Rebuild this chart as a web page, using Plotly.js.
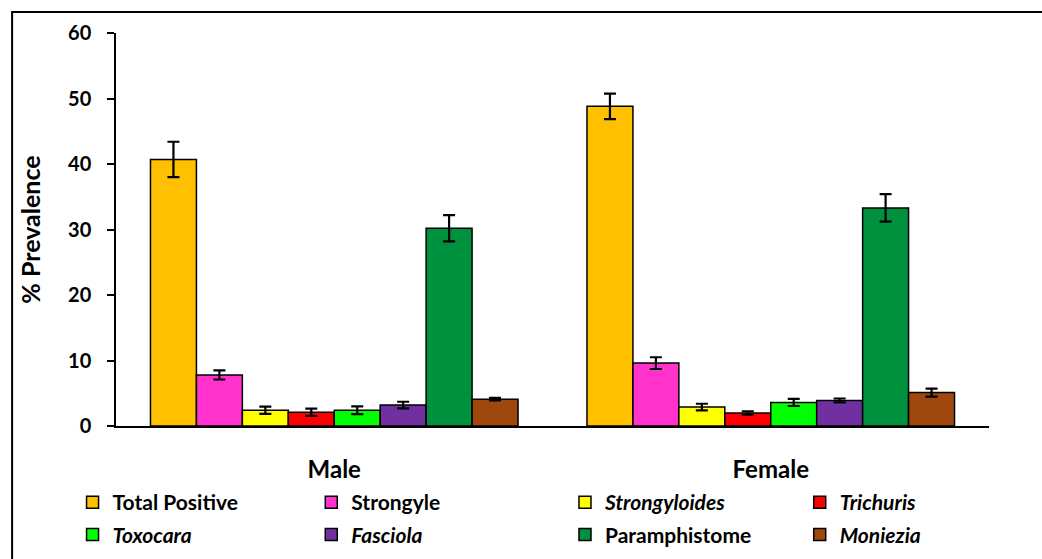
<!DOCTYPE html>
<html>
<head>
<meta charset="utf-8">
<script src="https://cdn.plot.ly/plotly-3.0.1.min.js"></script>
<style>html,body{margin:0;padding:0;background:#fff;}#chart{width:1042px;height:559px;}</style>
</head>
<body>
<div id="chart"></div>
<script>
const categories = ["Male", "Female"];
const seriesNames = ["Total Positive", "Strongyle", "<i>Strongyloides</i>", "<i>Trichuris</i>",
                     "<i>Toxocara</i>", "<i>Fasciola</i>", "Paramphistome", "<i>Moniezia</i>"];
const totalPositive = [40.7, 48.8];
const strongyle     = [7.8, 9.6];
const strongyloides = [2.4, 2.9];
const trichuris     = [2.1, 2.0];
const toxocara      = [2.4, 3.6];
const fasciola      = [3.2, 3.9];
const paramphistome = [30.2, 33.3];
const moniezia      = [4.1, 5.1];
const errTotalPositive = [2.7, 1.95];
const errStrongyle     = [0.7, 0.9];
const errStrongyloides = [0.55, 0.5];
const errTrichuris     = [0.55, 0.25];
const errToxocara      = [0.6, 0.55];
const errFasciola      = [0.5, 0.3];
const errParamphistome = [2.0, 2.1];
const errMoniezia      = [0.2, 0.6];
const colors = ["#FFC000", "#FF33CC", "#FFFF00", "#FF0000", "#00FF00", "#7030A0", "#00913F", "#9E480E"];

const values = [totalPositive, strongyle, strongyloides, trichuris, toxocara, fasciola, paramphistome, moniezia];
const errors = [errTotalPositive, errStrongyle, errStrongyloides, errTrichuris, errToxocara, errFasciola, errParamphistome, errMoniezia];
const legendIds = ["legend", "legend2", "legend3", "legend4", "legend", "legend2", "legend3", "legend4"];

const FONT = "Lato, 'Open Sans', sans-serif";

const traces = values.map((v, i) => ({
  type: "bar",
  name: seriesNames[i],
  x: categories,
  y: v,
  marker: { color: colors[i], line: { color: "#000", width: 1.5 } },
  error_y: { type: "data", array: errors[i], visible: true, color: "#000", thickness: 2.2, width: 6 },
  legend: legendIds[i],
  legendgroup: "g" + i,
  hoverinfo: "y+name"
}));

const legendBase = {
  orientation: "v",
  yref: "container",
  y: 1 - 482 / 559,
  yanchor: "top",
  xanchor: "left",
  bgcolor: "rgba(0,0,0,0)",
  font: { family: FONT, size: 21, color: "#000", weight: "bold" },
  tracegroupgap: 2,
  itemwidth: 30
};
// plot area: x from 115.5 to 989.5 px (width 874)
function px2paper(px) { return (px - 115.5) / 874; }

const layout = {
  width: 1042,
  height: 559,
  margin: { l: 115.5, r: 52.5, t: 33, b: 133 },
  paper_bgcolor: "#fff",
  plot_bgcolor: "#fff",
  barmode: "group",
  bargap: 0.158,
  bargroupgap: 0,
  font: { family: FONT, color: "#000" },
  xaxis: {
    showline: true, linecolor: "#000", linewidth: 2,
    ticks: "", range: [-0.5, 1.5],
    tickfont: { family: FONT, size: 24, color: "#000", weight: "bold" },
    ticklabelstandoff: 21,
    automargin: false,
    fixedrange: true
  },
  yaxis: {
    range: [0, 60], dtick: 10,
    showline: true, linecolor: "#000", linewidth: 1.5,
    ticks: "outside", ticklen: 7, tickwidth: 1.5, tickcolor: "#000",
    showgrid: false, zeroline: false,
    tickfont: { family: FONT, size: 20, color: "#000", weight: "bold" },
    ticklabelstandoff: 12,
    automargin: false,
    title: { text: "% Prevalence", font: { family: FONT, size: 25, color: "#000", weight: "bold" }, standoff: 20 },
    fixedrange: true
  },
  legend:  Object.assign({}, legendBase, { x: px2paper(72) }),
  legend2: Object.assign({}, legendBase, { x: px2paper(311) }),
  legend3: Object.assign({}, legendBase, { x: px2paper(565) }),
  legend4: Object.assign({}, legendBase, { x: px2paper(800) }),
  shapes: [{
    type: "rect", xref: "paper", yref: "paper",
    x0: px2paper(11.5), x1: px2paper(1060),
    y0: (426 - 580) / 393, y1: (426 - 12) / 393,
    line: { color: "#000", width: 2 }, fillcolor: "rgba(0,0,0,0)", layer: "below"
  }]
};

Plotly.newPlot("chart", traces, layout, { displayModeBar: false });
</script>
</body>
</html>
